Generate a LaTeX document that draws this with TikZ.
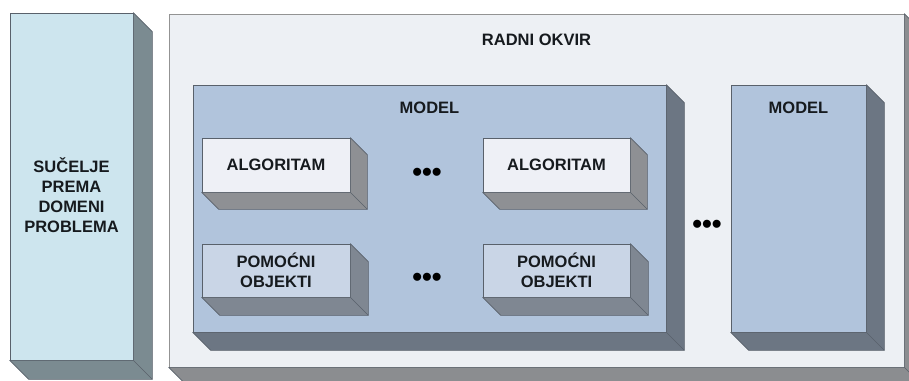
\documentclass[tikz,border=0pt]{standalone}
\usepackage{fontspec}
\setmainfont{Liberation Sans}
\usetikzlibrary{calc,positioning}

\definecolor{edgegray}{HTML}{59616B}
\definecolor{sucfront}{HTML}{CDE5EE}
\definecolor{sucside}{HTML}{7B8B91}
\definecolor{okvirfront}{HTML}{EDF0F4}
\definecolor{okvirside}{HTML}{8B8D90}
\definecolor{modelfront}{HTML}{B1C4DC}
\definecolor{modelside}{HTML}{6C7683}
\definecolor{algfront}{HTML}{EEF0F6}
\definecolor{algside}{HTML}{8E9094}
\definecolor{pomfront}{HTML}{C9D5E6}
\definecolor{pomside}{HTML}{7F8792}
\definecolor{txt}{HTML}{161A1E}

\newcommand{\extrude}[3]{%
  \filldraw[draw=edgegray,line width=0.7pt,fill=#3,line join=round]
    (#1.north east) -- ++(#2,#2) -- ($(#1.south east)+(#2,#2)$)
    -- ($(#1.south west)+(#2,#2)$) -- (#1.south west) -- (#1.south east) -- cycle;
  \draw[edgegray,line width=0.5pt] (#1.south east) -- ++(#2,#2);}

\begin{document}
\begin{tikzpicture}[x=1pt,y=-1pt,
  box/.style={draw=edgegray,line width=0.7pt,inner sep=0pt,align=center,text=txt,
    font=\fontsize{16.5}{20}\selectfont\bfseries},
  title/.style={text=txt,inner sep=0pt,font=\fontsize{16.5}{20}\selectfont\bfseries},
  dots/.style={text=black,inner sep=0pt,font=\fontsize{28}{28}\selectfont\bfseries}]
\useasboundingbox (0,0) rectangle (909,380);

% interface to problem domain
\node [box,fill=sucfront,minimum width=123pt,minimum height=347pt] (suc) at (71.5,186.5) {};
\extrude{suc}{19}{sucside}
\node [title,align=center] (suctxt) at (71.5,195) {SUČELJE\\PREMA\\DOMENI\\PROBLEMA};

% working frame
\node [box,fill=okvirfront,draw=gray!85,minimum width=735pt,minimum height=353pt] (okvir) at (536.5,190.5) {};
\extrude{okvir}{18}{okvirside}
\node [title] (okvirtxt) at (536.5,40) {RADNI OKVIR};

% models
\node [box,fill=modelfront,minimum width=473pt,minimum height=247pt] (model1) at (429.5,208.5) {};
\extrude{model1}{18}{modelside}
\node [title,below=17pt of model1.north] (model1txt) {MODEL};

\node [box,fill=modelfront,minimum width=135pt,minimum height=247pt] (model2) at (798.5,208.5) {};
\extrude{model2}{18}{modelside}
\node [title,below=17pt of model2.north] (model2txt) {MODEL};

% algorithms and helper objects
\node [box,fill=algfront,minimum width=148pt,minimum height=54pt] (alg1) at (276,165) {ALGORITAM};
\extrude{alg1}{17}{algside}
\node [box,fill=algfront,minimum width=147pt,minimum height=54pt] (alg2) at (556.5,165) {ALGORITAM};
\extrude{alg2}{17}{algside}
\node [box,fill=pomfront,minimum width=148pt,minimum height=53pt] (pom1) at (276,270.5) {POMOĆNI\\OBJEKTI};
\extrude{pom1}{18}{pomside}
\node [box,fill=pomfront,minimum width=147pt,minimum height=53pt] (pom2) at (556.5,270.5) {POMOĆNI\\OBJEKTI};
\extrude{pom2}{18}{pomside}

\node [dots] (dotsalg) at (427,175) {•••};
\node [dots] (dotspom) at (427,280) {•••};
\node [dots] (dotsmodel) at (707,227) {•••};
\end{tikzpicture}
\end{document}
